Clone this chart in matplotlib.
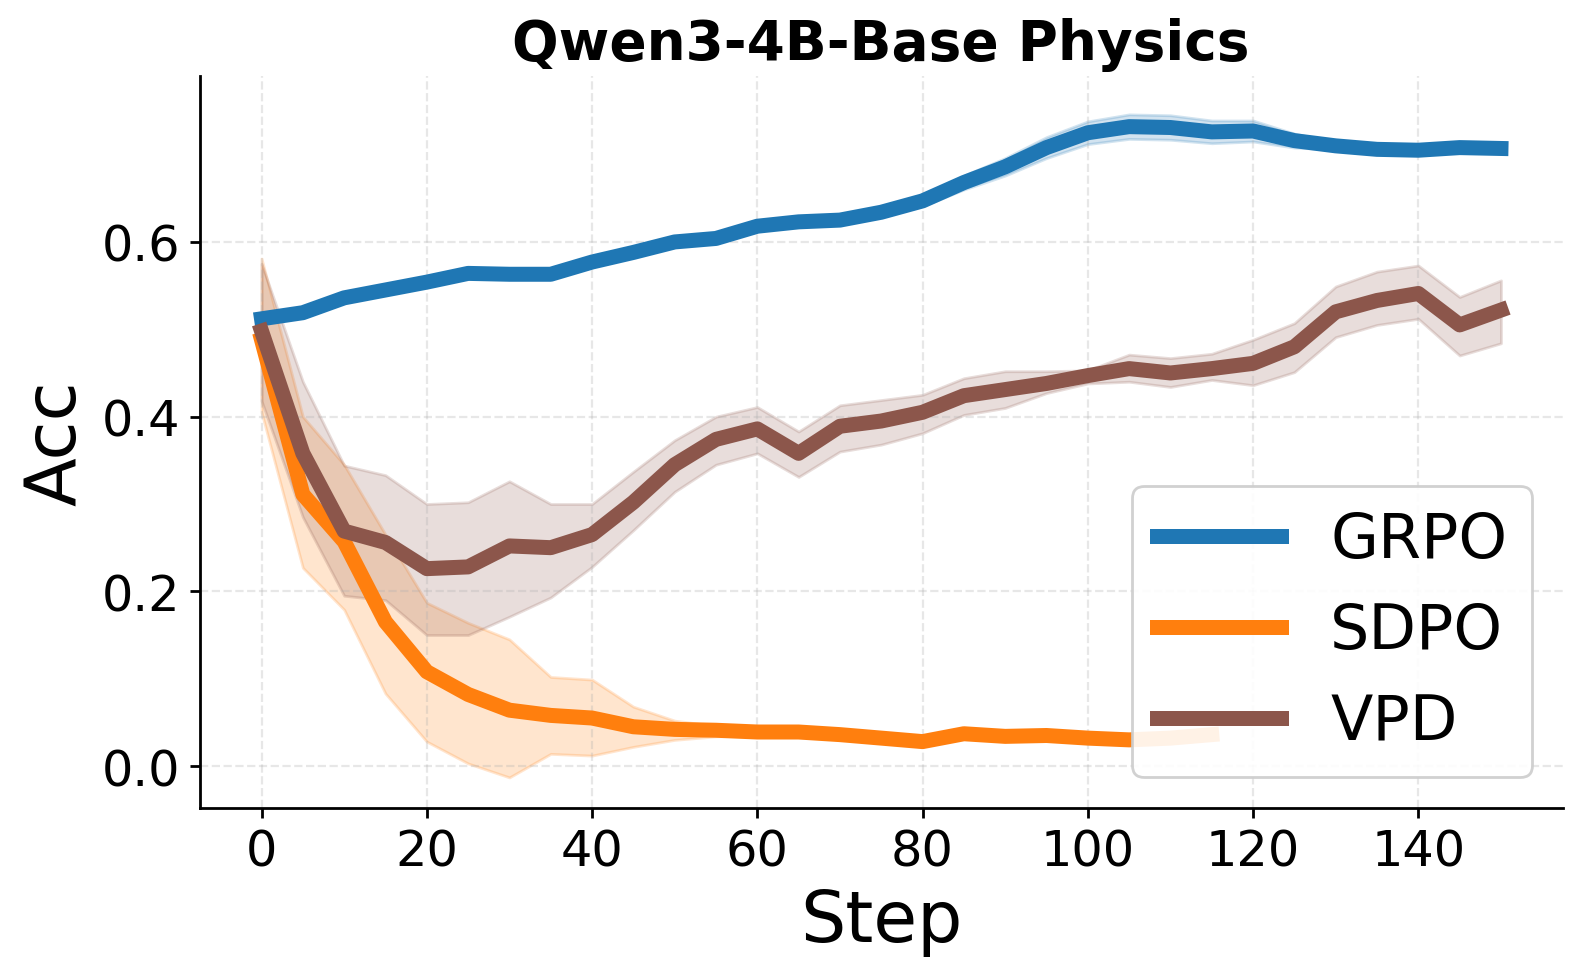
import matplotlib
matplotlib.use("Agg")
import matplotlib.pyplot as plt
import numpy as np

# steps logged every 5
steps = np.arange(0, 155, 5)
sdpo_steps = np.arange(0, 120, 5)

grpo_mean = [0.512, 0.519, 0.536, 0.545, 0.554, 0.564, 0.563, 0.563, 0.577, 0.588,
             0.600, 0.604, 0.618, 0.623, 0.625, 0.634, 0.647, 0.668, 0.686, 0.708,
             0.725, 0.732, 0.731, 0.726, 0.727, 0.716, 0.710, 0.706, 0.705, 0.708, 0.707]
grpo_err = [0.003, 0.003, 0.003, 0.003, 0.003, 0.003, 0.003, 0.003, 0.003, 0.004,
            0.004, 0.004, 0.004, 0.004, 0.004, 0.005, 0.006, 0.008, 0.010, 0.012,
            0.013, 0.014, 0.014, 0.013, 0.012, 0.008, 0.004, 0.003, 0.003, 0.002, 0.002]

sdpo_mean = [0.488, 0.311, 0.257, 0.165, 0.108, 0.082, 0.064, 0.058, 0.055, 0.045,
             0.042, 0.041, 0.039, 0.039, 0.036, 0.032, 0.028, 0.037, 0.034, 0.035,
             0.032, 0.030, 0.032, 0.036]
sdpo_upper = [0.581, 0.400, 0.345, 0.265, 0.187, 0.164, 0.145, 0.102, 0.099, 0.068,
              0.052, 0.046, 0.043, 0.043, 0.040, 0.036, 0.032, 0.041, 0.038, 0.039,
              0.036, 0.034, 0.036, 0.040]
sdpo_lower = [0.405, 0.227, 0.179, 0.083, 0.028, 0.003, -0.013, 0.014, 0.012, 0.022,
              0.030, 0.034, 0.035, 0.035, 0.032, 0.028, 0.024, 0.033, 0.030, 0.031,
              0.028, 0.026, 0.028, 0.032]

vpd_mean = [0.498, 0.358, 0.269, 0.256, 0.226, 0.228, 0.252, 0.250, 0.265, 0.302,
            0.345, 0.374, 0.386, 0.358, 0.389, 0.395, 0.405, 0.424, 0.431, 0.438,
            0.447, 0.455, 0.450, 0.455, 0.461, 0.480, 0.520, 0.533, 0.541, 0.505, 0.522]
vpd_upper = [0.575, 0.440, 0.344, 0.333, 0.300, 0.302, 0.326, 0.300, 0.300, 0.337,
             0.373, 0.400, 0.411, 0.383, 0.413, 0.419, 0.425, 0.444, 0.452, 0.452,
             0.453, 0.471, 0.467, 0.472, 0.488, 0.507, 0.549, 0.566, 0.573, 0.537, 0.556]
vpd_lower = [0.418, 0.285, 0.195, 0.190, 0.150, 0.150, 0.171, 0.193, 0.228, 0.270,
             0.314, 0.345, 0.358, 0.331, 0.360, 0.368, 0.381, 0.402, 0.410, 0.427,
             0.438, 0.440, 0.434, 0.442, 0.436, 0.451, 0.491, 0.505, 0.512, 0.470, 0.484]

k = 0.9875  # font scale to match the original render
fig = plt.figure(figsize=(7.9, 4.89), dpi=200)
ax = fig.add_axes([0.1263, 0.1728, 0.8629, 0.7485])

gm = np.array(grpo_mean)
ge = np.array(grpo_err)
ax.fill_between(steps, gm - ge, gm + ge, color='tab:blue', alpha=0.2)
ax.plot(steps, gm, color='tab:blue', lw=5.4, label='GRPO')

ax.fill_between(sdpo_steps, sdpo_lower, sdpo_upper, color='tab:orange', alpha=0.2)
ax.plot(sdpo_steps, sdpo_mean, color='tab:orange', lw=5.4, label='SDPO')

ax.fill_between(steps, vpd_lower, vpd_upper, color='tab:brown', alpha=0.2)
ax.plot(steps, vpd_mean, color='tab:brown', lw=5.4, label='VPD')

ax.set_xlim(-7.5, 157.5)
ax.set_ylim(-0.048, 0.79)
ax.set_xticks(np.arange(0, 141, 20))
ax.set_yticks([0.0, 0.2, 0.4, 0.6])
ax.tick_params(labelsize=18 * k, width=1.0, length=3.5)
ax.grid(True, linestyle='--', alpha=0.3)

for s in ['top', 'right']:
    ax.spines[s].set_visible(False)
for s in ['left', 'bottom']:
    ax.spines[s].set_linewidth(1.0)

ax.set_xlabel('Step', fontsize=26 * k)
ax.set_ylabel('Acc', fontsize=26 * k)
ax.set_title('Qwen3-4B-Base Physics', fontsize=20 * k, fontweight='bold')
ax.legend(loc='lower right', fontsize=22.3, framealpha=0.9)

plt.savefig('out.png', dpi=200)
